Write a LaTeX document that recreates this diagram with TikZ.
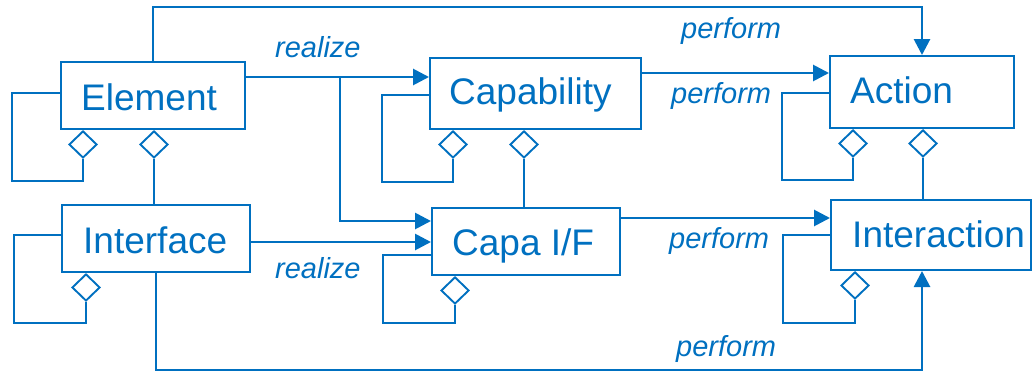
\documentclass[tikz,border=0pt]{standalone}
\usepackage{fontspec}
\setmainfont{Liberation Sans}
\usetikzlibrary{arrows.meta,shapes.geometric,calc}
\definecolor{umlblue}{RGB}{0,112,192}
\begin{document}
\begin{tikzpicture}[x=1pt,y=-1pt,
  cls/.style={draw=umlblue, line width=2pt, inner sep=0pt, anchor=north west},
  clsname/.style={text=umlblue, font=\fontsize{37}{44}\selectfont, inner sep=0pt, anchor=base west},
  rel/.style={text=umlblue, font=\fontsize{29}{34}\selectfont\itshape, inner sep=0pt, anchor=base west},
  conn/.style={draw=umlblue, line width=2.8pt, -{Triangle[length=16pt,width=16pt]}},
  agg/.style={draw=umlblue, line width=1.9pt},
  hollow/.style={diamond, draw=umlblue, fill=white, line width=1.9pt, inner sep=0pt,
    minimum width=28pt, minimum height=27pt, anchor=north},
]
\useasboundingbox (0,0) rectangle (1032,370);

% class boxes
\node[cls, minimum width=184pt, minimum height=67pt] (element) at (60,61) {};
\node[cls, minimum width=188pt, minimum height=67pt] (interface) at (61,204) {};
\node[cls, minimum width=211pt, minimum height=71pt] (capability) at (429,57) {};
\node[cls, minimum width=188pt, minimum height=67pt] (capaif) at (431,207) {};
\node[cls, minimum width=184pt, minimum height=72pt] (action) at (829,55) {};
\node[cls, minimum width=200pt, minimum height=70pt] (interaction) at (830,199) {};

% class names
\node[clsname] (elementname) at ($(element.south west)+(21,-20)$) {Element};
\node[clsname] (interfacename) at ($(interface.south west)+(22,-20)$) {Interface};
\node[clsname] (capabilityname) at ($(capability.south west)+(20,-26)$) {Capability};
\node[clsname] (capaifname) at ($(capaif.south west)+(21,-21)$) {Capa I/F};
\node[clsname] (actionname) at ($(action.south west)+(21,-26)$) {Action};
\node[clsname] (interactionname) at ($(interaction.south west)+(22,-24)$) {Interaction};

% aggregation diamonds
\node[hollow] (elementd1) at ($(element.south west)+(23,0)$) {};
\node[hollow] (elementd2) at ($(element.south west)+(94,0)$) {};
\node[hollow] (interfaced1) at ($(interface.south west)+(25,0)$) {};
\node[hollow] (capabilityd1) at ($(capability.south west)+(24,0)$) {};
\node[hollow] (capabilityd2) at ($(capability.south west)+(95,0)$) {};
\node[hollow] (capaifd1) at ($(capaif.south west)+(24,0)$) {};
\node[hollow] (actiond1) at ($(action.south west)+(24,0)$) {};
\node[hollow] (actiond2) at ($(action.south west)+(94,0)$) {};
\node[hollow] (interactiond1) at ($(interaction.south west)+(25,0)$) {};

% self aggregations
\draw[agg] ($(element.north west)+(0,32)$) -| ++(-48,88) -| (elementd1.south);
\draw[agg] ($(interface.north west)+(0,31)$) -| ++(-47,88) -| (interfaced1.south);
\draw[agg] ($(capability.north west)+(0,38)$) -| ++(-47,87) -| (capabilityd1.south);
\draw[agg] ($(capaif.north west)+(0,48)$) -| ++(-48,68) -| (capaifd1.south);
\draw[agg] ($(action.north west)+(0,38)$) -| ++(-47,87) -| (actiond1.south);
\draw[agg] ($(interaction.north west)+(0,36)$) -| ++(-47,88) -| (interactiond1.south);

% aggregations between classes
\draw[agg] (elementd2.south) -- (elementd2.south |- interface.north);
\draw[agg] (capabilityd2.south) -- (capabilityd2.south |- capaif.north);
\draw[agg] (actiond2.south) -- (actiond2.south |- interaction.north);

% realize
\coordinate (elemout) at ($(element.north east)+(0,16)$);
\coordinate (split) at ($(elemout)+(94,0)$);
\coordinate (ifout) at ($(interface.north east)+(0,38)$);
\draw[conn] (elemout) -- (elemout -| capability.west);
\draw[conn] (split) |- ($(capaif.north west)+(0,14)$);
\draw[conn] (ifout) -- (ifout -| capaif.west);

% perform
\coordinate (capout) at ($(capability.north east)+(0,16)$);
\coordinate (cifout) at ($(capaif.north east)+(0,11)$);
\draw[conn] (capout) -- (capout -| action.west);
\draw[conn] (cifout) -- (cifout -| interaction.west);
\draw[conn] (element.north) -- ++(0,-54) -| (action.north);
\draw[conn] (interface.south) -- ++(0,97) -| (interaction.south -| action.north);

% relation labels
\node[rel] (realizetop) at (275,57) {realize};
\node[rel] (realizebottom) at (275,278) {realize};
\node[rel] (performtop) at (681,38) {perform};
\node[rel] (performcap) at (671,103) {perform};
\node[rel] (performcif) at (669,248) {perform};
\node[rel] (performbottom) at (676,356) {perform};
\end{tikzpicture}
\end{document}
